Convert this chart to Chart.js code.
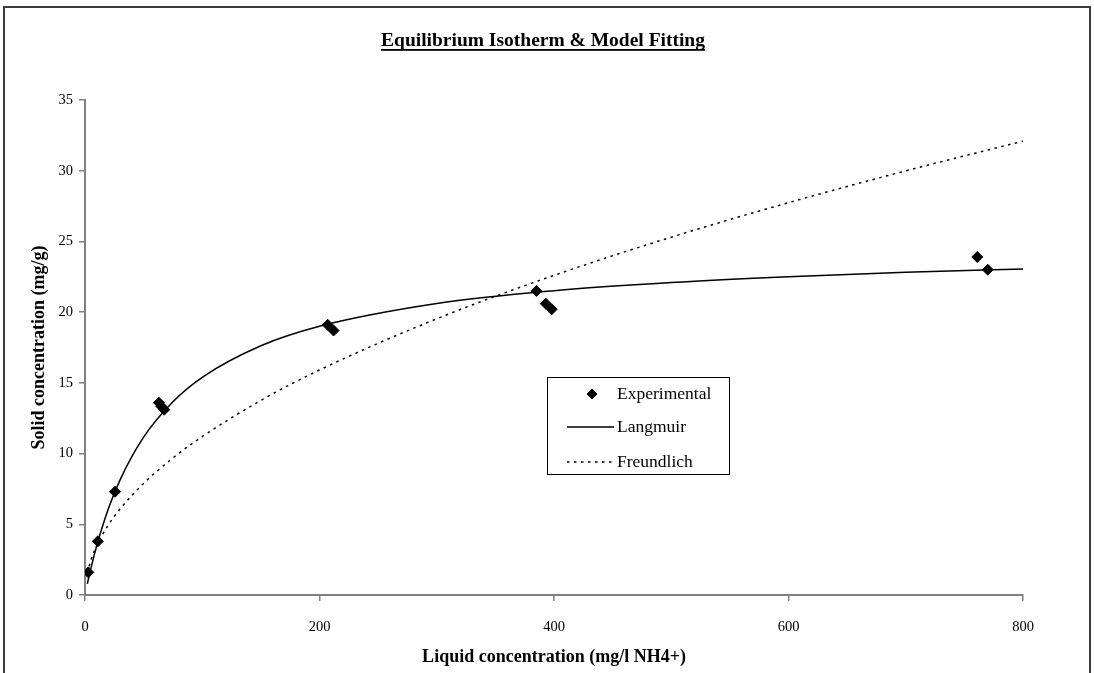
<!DOCTYPE html>
<html>
<head>
<meta charset="utf-8">
<script src="https://cdn.jsdelivr.net/npm/chart.js@4/dist/chart.umd.min.js"></script>
<style>
    html, body { margin: 0; padding: 0; background: #fff; overflow: hidden; }
    #frame {
        position: absolute; left: 3px; top: 6px; width: 1088px; height: 700px;
        border: 2px solid #3a3a3a; box-sizing: border-box;
    }
    #wrap { position: absolute; left: 0; top: 0; width: 1094px; height: 673px; }
</style>
</head>
<body>
<div id="frame"></div>
<div id="wrap"><canvas id="isothermChart" width="1094" height="673"></canvas></div>
<script>
// experimental points
const expConc = [2.8, 11, 25.6, 63, 65, 67.5, 207, 212, 385, 393, 398, 761, 770];
const expSolid = [1.6, 3.8, 7.3, 13.6, 13.35, 13.1, 19.1, 18.7, 21.5, 20.6, 20.2, 23.9, 23.0];

// fitted curves
const modelConc = [2, 5, 10, 20, 30, 50, 75, 100, 150, 200, 300, 400, 500, 600, 700, 800];
const langmuir = [0.79, 1.87, 3.48, 6.11, 8.16, 11.16, 13.66, 15.39, 17.62, 19.0, 20.61, 21.52, 22.1, 22.51, 22.82, 23.05];
const freundlich = [1.55, 2.46, 3.49, 4.96, 6.09, 7.89, 9.69, 11.2, 13.76, 15.91, 19.53, 22.6, 25.3, 27.74, 29.99, 32.09];

const xTicks = [0, 200, 400, 600, 800];
const yTicks = [0, 5, 10, 15, 20, 25, 30, 35];

const serif = '"Liberation Serif", "Times New Roman", serif';

function toPoints(xs, ys) {
    return xs.map((x, i) => ({ x: x, y: ys[i] }));
}

const titlePlugin = {
    id: 'underlinedTitle',
    afterDraw(chart) {
        const ctx = chart.ctx;
        const text = 'Equilibrium Isotherm & Model Fitting';
        ctx.save();
        ctx.font = 'bold 19.5px ' + serif;
        ctx.fillStyle = '#000';
        ctx.textAlign = 'center';
        ctx.textBaseline = 'alphabetic';
        const cx = 543, cy = 46;
        ctx.fillText(text, cx, cy);
        const w = ctx.measureText(text).width;
        ctx.fillRect(cx - w / 2, cy + 3, w, 1.8);
        ctx.restore();
    }
};

const legendPlugin = {
    id: 'boxLegend',
    afterDraw(chart) {
        const ctx = chart.ctx;
        const left = 547, top = 377, width = 182, height = 97;
        ctx.save();
        ctx.fillStyle = '#fff';
        ctx.fillRect(left, top, width, height);
        ctx.strokeStyle = '#000';
        ctx.lineWidth = 1;
        ctx.strokeRect(left + 0.5, top + 0.5, width, height);
        ctx.font = '17.5px ' + serif;
        ctx.textBaseline = 'middle';
        ctx.fillStyle = '#000';
        const rows = [394, 427, 462];
        chart.data.datasets.forEach((ds, i) => {
            const y = rows[i];
            if (ds.pointRadius > 0) {
                Chart.helpers.drawPoint(ctx, {
                    pointStyle: 'rectRot', radius: 5, borderWidth: 1, rotation: 0
                }, 592, y);
                ctx.fillStyle = '#000';
                ctx.fill();
            } else {
                ctx.beginPath();
                ctx.setLineDash(ds.borderDash || []);
                ctx.lineWidth = ds.borderWidth;
                ctx.strokeStyle = ds.borderColor;
                ctx.moveTo(567, y);
                ctx.lineTo(614, y);
                ctx.stroke();
                ctx.setLineDash([]);
            }
            ctx.fillStyle = '#000';
            ctx.fillText(ds.label, 617, y);
        });
        ctx.restore();
    }
};

const ctx = document.getElementById('isothermChart').getContext('2d');
const isothermChart = new Chart(ctx, {
    type: 'scatter',
    data: {
        datasets: [{
            label: 'Experimental',
            data: toPoints(expConc, expSolid),
            pointStyle: 'rectRot',
            pointRadius: 5.5,
            backgroundColor: '#000',
            borderColor: '#000',
            borderWidth: 1,
            showLine: false,
            order: 0
        }, {
            label: 'Langmuir',
            data: toPoints(modelConc, langmuir),
            showLine: true,
            pointRadius: 0,
            borderColor: '#000',
            borderWidth: 1.5,
            cubicInterpolationMode: 'monotone',
            order: 1
        }, {
            label: 'Freundlich',
            data: toPoints(modelConc, freundlich),
            showLine: true,
            pointRadius: 0,
            borderColor: '#000',
            borderWidth: 1.5,
            borderDash: [2.5, 4.5],
            cubicInterpolationMode: 'monotone',
            order: 2
        }]
    },
    options: {
        responsive: false,
        animation: false,
        layout: { padding: { left: 0, top: 100, right: 71, bottom: 0 } },
        plugins: {
            legend: { display: false },
            title: { display: false },
            tooltip: { enabled: false }
        },
        scales: {
            x: {
                type: 'linear',
                min: 0,
                max: 800,
                afterFit(scale) { scale.height = 78; },
                afterBuildTicks(scale) { scale.ticks = xTicks.map(v => ({ value: v })); },
                grid: { display: true, drawOnChartArea: false, drawTicks: true, tickLength: 6, color: '#808080', lineWidth: 1.5 },
                border: { display: true, color: '#808080', width: 2 },
                ticks: { color: '#000', font: { family: serif, size: 14.5 }, padding: 17 },
                title: {
                    display: true,
                    text: 'Liquid concentration (mg/l NH4+)',
                    color: '#000',
                    font: { family: serif, size: 18, weight: 'bold' },
                    padding: { top: 0, bottom: 5 }
                }
            },
            y: {
                type: 'linear',
                min: 0,
                max: 35,
                afterFit(scale) { scale.width = 85; },
                afterBuildTicks(scale) { scale.ticks = yTicks.map(v => ({ value: v })); },
                grid: { display: true, drawOnChartArea: false, drawTicks: true, tickLength: 6, color: '#808080', lineWidth: 1.5 },
                border: { display: true, color: '#808080', width: 2 },
                ticks: { color: '#000', font: { family: serif, size: 14.5 }, padding: 6 },
                title: {
                    display: true,
                    text: 'Solid concentration (mg/g)',
                    color: '#000',
                    font: { family: serif, size: 18, weight: 'bold' },
                    padding: { top: 29, bottom: 0 }
                }
            }
        }
    },
    plugins: [titlePlugin, legendPlugin]
});
</script>
</body>
</html>
